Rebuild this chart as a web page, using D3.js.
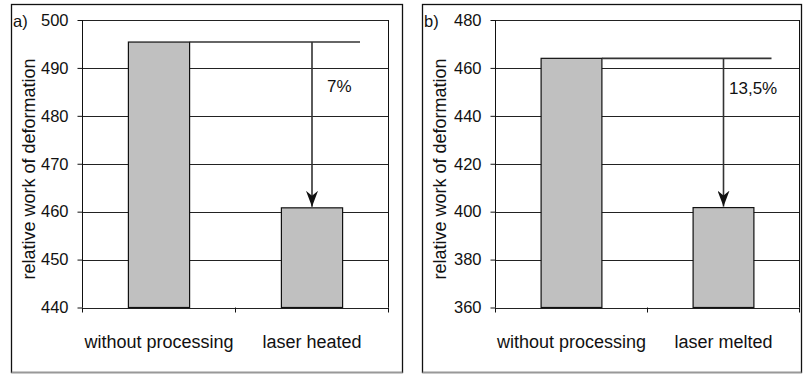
<!DOCTYPE html>
<html>
<head>
<meta charset="utf-8">
<title>Relative work of deformation</title>
<script src="https://d3js.org/d3.v7.min.js"></script>
<style>
  body { margin: 0; background: #fff; }
  svg text { font-family: "Liberation Sans", Arial, sans-serif; fill: #111; }
</style>
</head>
<body>
<div id="chart"></div>
<script>
// data
const panelLabels = ["a)", "b)"];
const categoriesA = ["without processing", "laser heated"];
const valuesA = [495.4, 460.8];
const ticksA = [440, 450, 460, 470, 480, 490, 500];
const categoriesB = ["without processing", "laser melted"];
const valuesB = [464.0, 401.7];
const ticksB = [360, 380, 400, 420, 440, 460, 480];
const reductionLabels = ["7%", "13,5%"];
const yTitle = "relative work of deformation";

const width = 803, height = 374;
const svg = d3.select("#chart").append("svg")
  .attr("width", width).attr("height", height);

// notched arrow head, pointing along the line
svg.append("defs").append("marker")
  .attr("id", "arrow")
  .attr("viewBox", "0 0 16 12")
  .attr("refX", 16).attr("refY", 6)
  .attr("markerWidth", 16).attr("markerHeight", 12)
  .attr("markerUnits", "userSpaceOnUse")
  .attr("orient", "auto")
  .append("path")
  .attr("d", "M0,0 L16,6 L0,12 L5,6 Z")
  .attr("fill", "#111");

// panel layout
const panels = [
  { label: panelLabels[0], cats: categoriesA, vals: valuesA, ticks: ticksA, note: reductionLabels[0],
    frame: [11.5, 402.5], plot: [82.5, 388.5], noteDx: 15, noteY: 92 },
  { label: panelLabels[1], cats: categoriesB, vals: valuesB, ticks: ticksB, note: reductionLabels[1],
    frame: [422.5, 801.5], plot: [495.5, 799.5], noteDx: 5.5, noteY: 94 }
];
const plotTop = 20, plotBottom = 307.5;

panels.forEach(p => {
  const g = svg.append("g");

  // outer frame
  g.append("rect")
    .attr("x", p.frame[0]).attr("y", 4.5)
    .attr("width", p.frame[1] - p.frame[0]).attr("height", 368)
    .attr("fill", "none").attr("stroke", "#111").attr("stroke-width", 1.3);
  g.append("line")
    .attr("x1", p.frame[0]).attr("x2", p.frame[1])
    .attr("y1", 372.5).attr("y2", 372.5)
    .attr("stroke", "#999").attr("stroke-width", 1.5);

  const x = d3.scaleBand().domain(p.cats).range(p.plot)
    .paddingInner(0.6).paddingOuter(0.3);
  const y = d3.scaleLinear().domain(d3.extent(p.ticks)).range([plotBottom, plotTop]);

  // gridlines
  g.append("g").selectAll("line").data(p.ticks).join("line")
    .attr("x1", p.plot[0]).attr("x2", p.plot[1])
    .attr("y1", d => Math.round(y(d)) + 0.5).attr("y2", d => Math.round(y(d)) + 0.5)
    .attr("stroke", "#222").attr("stroke-width", 1);

  // plot border (left, right)
  g.append("line").attr("x1", p.plot[0]).attr("x2", p.plot[0])
    .attr("y1", plotTop).attr("y2", plotBottom).attr("stroke", "#111");
  g.append("line").attr("x1", p.plot[1]).attr("x2", p.plot[1])
    .attr("y1", plotTop).attr("y2", plotBottom).attr("stroke", "#111");

  // y axis
  const yAxis = g.append("g")
    .attr("transform", `translate(${p.plot[0]},0)`)
    .call(d3.axisLeft(y).tickValues(p.ticks).tickSize(5).tickPadding(9).tickFormat(d3.format("d")));
  yAxis.select(".domain").remove();
  yAxis.selectAll(".tick line").attr("stroke", "#111");
  yAxis.selectAll(".tick text").attr("font-size", 16.5).attr("fill", "#111")
    .attr("font-family", "Liberation Sans, Arial, sans-serif");

  // x axis ticks at category boundaries
  const bounds = d3.range(p.cats.length + 1).map(i => p.plot[0] + i * (p.plot[1] - p.plot[0]) / p.cats.length);
  g.append("g").selectAll("line").data(bounds).join("line")
    .attr("x1", d => d).attr("x2", d => d)
    .attr("y1", plotBottom).attr("y2", plotBottom + 5)
    .attr("stroke", "#111");

  // bars
  g.append("g").selectAll("rect").data(p.vals).join("rect")
    .attr("x", (d, i) => x(p.cats[i]))
    .attr("y", d => y(d))
    .attr("width", x.bandwidth())
    .attr("height", d => plotBottom - y(d))
    .attr("fill", "#c0c0c0")
    .attr("stroke", "#111").attr("stroke-width", 1.2);

  // category labels
  g.append("g").selectAll("text").data(p.cats).join("text")
    .attr("x", d => x(d) + x.bandwidth() / 2)
    .attr("y", 348)
    .attr("text-anchor", "middle")
    .attr("font-size", 18)
    .text(d => d);

  // axis title
  g.append("text")
    .attr("transform", `translate(${p.frame[0] + 23.5},169) rotate(-90)`)
    .attr("text-anchor", "middle")
    .attr("font-size", 18)
    .text(yTitle);

  // panel label
  g.append("text")
    .attr("x", p.frame[0] + 1.5).attr("y", 26.5)
    .attr("font-size", 16.5)
    .text(p.label);

  // reduction annotation
  const cx = x(p.cats[1]) + x.bandwidth() / 2;
  const y0 = y(p.vals[0]);
  g.append("line")
    .attr("x1", x(p.cats[0]) + x.bandwidth()).attr("x2", cx + 48)
    .attr("y1", y0).attr("y2", y0)
    .attr("stroke", "#333").attr("stroke-width", 1.6);
  g.append("line")
    .attr("x1", cx).attr("x2", cx)
    .attr("y1", y0).attr("y2", y(p.vals[1]) - 1)
    .attr("stroke", "#333").attr("stroke-width", 1.6)
    .attr("marker-end", "url(#arrow)");
  g.append("text")
    .attr("x", cx + p.noteDx).attr("y", p.noteY)
    .attr("font-size", 17)
    .text(p.note);
});
</script>
</body>
</html>
